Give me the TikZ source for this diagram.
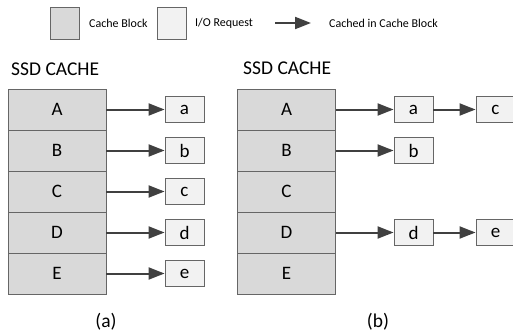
\documentclass[tikz,border=0pt]{standalone}
\usepackage{fontspec}
\setmainfont{Carlito}
\usetikzlibrary{arrows.meta}
\definecolor{blockfill}{HTML}{D9D9D9}
\definecolor{reqfill}{HTML}{F2F2F2}
\definecolor{edge}{HTML}{666666}
\definecolor{arr}{HTML}{404040}
\tikzset{
  cacheblk/.style={draw=edge, line width=0.9pt, fill=blockfill, minimum width=98pt, minimum height=41pt, inner sep=0pt, font=\fontsize{19}{21}\selectfont},
  ioreq/.style={draw=edge, line width=0.9pt, fill=reqfill, minimum width=39pt, minimum height=26pt, inner sep=0pt, font=\fontsize{19}{21}\selectfont},
  cachedarrow/.style={draw=arr, line width=2pt, -{Triangle[length=16pt,width=12pt]}},
  bigtext/.style={font=\fontsize{19.5}{21}\selectfont, inner sep=0pt},
  smalltext/.style={font=\fontsize{12}{14}\selectfont, inner sep=0pt, anchor=west}
}
\begin{document}
\begin{tikzpicture}[x=1pt,y=-1pt]
\useasboundingbox (0,0) rectangle (513,334);
% legend
\node[draw=edge, line width=0.9pt, fill=blockfill, minimum width=29pt, minimum height=32pt, inner sep=0pt] (lgblk) at (64.5,23) {};
\node[smalltext] (lgblkt) at (89,23) {Cache Block};
\node[draw=edge, line width=0.9pt, fill=reqfill, minimum width=29pt, minimum height=32pt, inner sep=0pt] (lgreq) at (171.5,23) {};
\node[smalltext] (lgreqt) at (195,23) {I/O Request};
\coordinate (lgs) at (275,23);
\coordinate (lge) at (311,23);
\draw[cachedarrow] (lgs) -- (lge);
\node[smalltext] (lgarrt) at (329,23) {Cached in Cache Block};
% (a)
\node[bigtext, anchor=west] (ta) at (11,69) {SSD CACHE};
\foreach \n/\L [count=\i from 0] in {A/A,B/B,C/C,D/D,E/E}{
  \node[cacheblk] (la\n) at (57,{109.5+41*\i}) {\L};
}
\foreach \n/\l [count=\i from 0] in {A/a,B/b,C/c,D/d,E/e}{
  \node[ioreq] (lr\n) at (184.5,{109.5+41*\i}) {\l};
  \draw[cachedarrow] (la\n.east) -- (lr\n.west);
}
\node[bigtext] (capa) at (106,322) {(a)};
% (b)
\node[bigtext, anchor=west] (tb) at (243,68) {SSD CACHE};
\foreach \n/\L [count=\i from 0] in {A/A,B/B,C/C,D/D,E/E}{
  \node[cacheblk] (rb\n) at (286.5,{109.5+41*\i}) {\L};
}
\node[ioreq] (ra) at (413.5,109.5) {a};
\node[ioreq] (rc) at (495.5,109.5) {c};
\node[ioreq] (rbb) at (413.5,150.5) {b};
\node[ioreq] (rd) at (413.5,232.5) {d};
\node[ioreq] (re) at (495.5,232.5) {e};
\draw[cachedarrow] (rbA.east) -- (ra.west);
\draw[cachedarrow] (ra.east) -- (rc.west);
\draw[cachedarrow] (rbB.east) -- (rbb.west);
\draw[cachedarrow] (rbD.east) -- (rd.west);
\draw[cachedarrow] (rd.east) -- (re.west);
\node[bigtext] (capb) at (378,322) {(b)};
\end{tikzpicture}
\end{document}
